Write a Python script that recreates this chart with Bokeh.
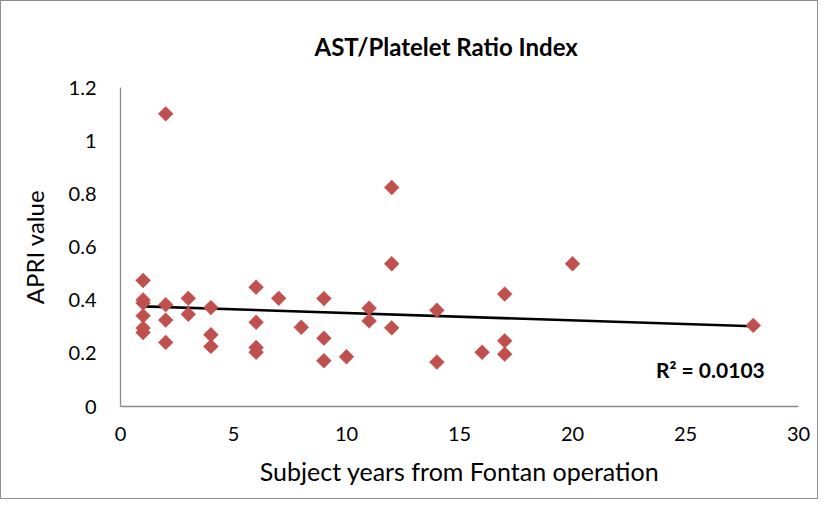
import numpy as np
from bokeh.plotting import figure
from bokeh.models import Label, Range1d, FixedTicker
from bokeh.embed import file_html
from bokeh.resources import INLINE

# Data
years = [1, 1, 1, 1, 1, 1,
         2, 2, 2, 2,
         3, 3,
         4, 4, 4,
         6, 6, 6, 6,
         7, 8,
         9, 9, 9,
         10,
         11, 11,
         12, 12, 12,
         14, 14,
         16,
         17, 17, 17,
         20, 28]
apri = [0.474, 0.401, 0.389, 0.341, 0.295, 0.278,
        1.101, 0.383, 0.325, 0.241,
        0.407, 0.347,
        0.372, 0.270, 0.226,
        0.449, 0.317, 0.222, 0.204,
        0.407, 0.298,
        0.406, 0.257, 0.172,
        0.187,
        0.370, 0.322,
        0.824, 0.537, 0.296,
        0.362, 0.167,
        0.204,
        0.423, 0.247, 0.197,
        0.537, 0.305]
x_ticks = [0, 5, 10, 15, 20, 25, 30]
y_ticks = [0, 0.2, 0.4, 0.6, 0.8, 1.0, 1.2]
title_text = "AST/Platelet Ratio Index"
r2_text = "R\u00b2 = 0.0103"

FONT = "Lato"
AXIS_COLOR = "#8c8c8c"
MARKER_COLOR = "#C0504D"

p = figure(width=818, height=499, output_backend="svg", toolbar_location=None,
           x_range=Range1d(0, 30), y_range=Range1d(0, 1.2),
           min_border_left=119, min_border_right=21,
           min_border_top=86, min_border_bottom=94)
p.styles = {"border": "1px solid #8c8c8c", "box-sizing": "border-box"}
p.outline_line_color = None
p.grid.visible = False
p.background_fill_color = "white"
p.border_fill_color = "white"

p.title.text = title_text
p.title.align = "left"
p.title.offset = 194
p.title.standoff = 53
p.title.text_font = FONT
p.title.text_font_size = "24px"
p.title.text_font_style = "bold"
p.title.text_color = "black"

for ax in (p.xaxis[0], p.yaxis[0]):
    ax.axis_line_color = AXIS_COLOR
    ax.axis_line_width = 1.3
    ax.major_tick_line_color = None
    ax.minor_tick_line_color = None
    ax.major_tick_out = 0
    ax.major_tick_in = 0
    ax.minor_tick_out = 0
    ax.minor_tick_in = 0
    ax.major_label_text_font = FONT
    ax.major_label_text_font_size = "20px"
    ax.major_label_text_color = "#000000"
    ax.axis_label_text_font = FONT
    ax.axis_label_text_font_style = "normal"
    ax.axis_label_text_color = "#000000"

p.xaxis.ticker = FixedTicker(ticks=x_ticks)
p.yaxis.ticker = FixedTicker(ticks=y_ticks)
p.yaxis.major_label_overrides = {t: ("%g" % t) for t in y_ticks}
p.xaxis.major_label_standoff = 20
p.yaxis.major_label_standoff = 24
p.xaxis.axis_label = "Subject years from Fontan operation"
p.yaxis.axis_label = "APRI value"
p.xaxis.axis_label_text_font_size = "25px"
p.yaxis.axis_label_text_font_size = "24px"
p.xaxis.axis_label_standoff = 12
p.yaxis.axis_label_standoff = 17

# Linear trend line fitted to the data
xa = np.array(years, dtype=float)
ya = np.array(apri, dtype=float)
slope, intercept = np.polyfit(xa, ya, 1)
tx = [min(years), max(years)]
ty = [slope * v + intercept for v in tx]
p.line(tx, ty, line_color="black", line_width=2.6)

p.scatter(years, apri, marker="square", angle=np.pi / 4, size=10.5,
          fill_color=MARKER_COLOR, line_color=MARKER_COLOR, line_width=0.5)

p.add_layout(Label(x=26.1, y=0.14, text=r2_text, text_font=FONT,
                   text_font_size="21px", text_font_style="bold",
                   text_align="center", text_baseline="middle", text_color="black"))

open("out.html", "w").write(file_html(p, INLINE))
